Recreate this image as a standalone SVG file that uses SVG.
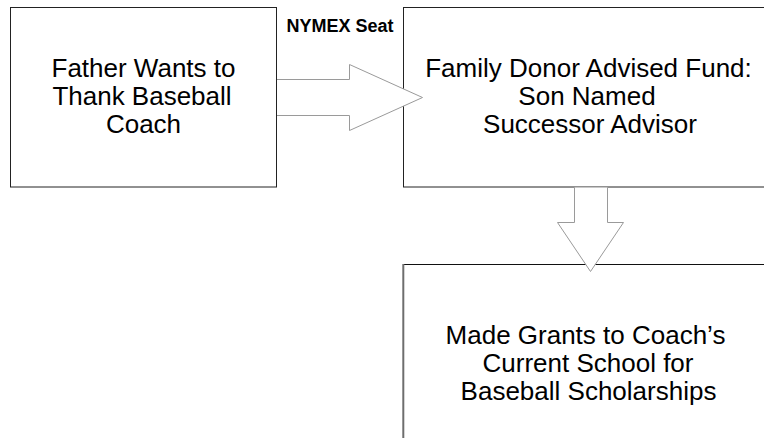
<svg xmlns="http://www.w3.org/2000/svg" width="764" height="438" viewBox="0 0 764 438">
  <style>
    .box { fill: #ffffff; stroke: #222222; stroke-width: 1; }
    .txt { font-family: "Liberation Sans", Arial, sans-serif; font-size: 26px; fill: #000000; text-anchor: middle; }
    .lbl { font-family: "Liberation Sans", Arial, sans-serif; font-size: 18px; font-weight: bold; fill: #000000; text-anchor: middle; }
    .arrow { fill: #ffffff; stroke: #9a9a9a; stroke-width: 1; stroke-linejoin: miter; }
  </style>
  <rect width="764" height="438" fill="#ffffff"/>

  <g id="node-father">
    <rect class="box" x="10.5" y="7.5" width="266" height="179.5"/>
    <text class="txt" x="143.5" y="77">Father Wants to</text>
    <text class="txt" x="142" y="105">Thank Baseball</text>
    <text class="txt" x="143.5" y="133">Coach</text>
  </g>

  <g id="node-fund">
    <rect class="box" x="403.5" y="7.5" width="370" height="179.5"/>
    <text class="txt" x="588.5" y="77">Family Donor Advised Fund:</text>
    <text class="txt" x="587" y="105">Son Named</text>
    <text class="txt" x="590" y="133">Successor Advisor</text>
  </g>

  <g id="node-grants">
    <path d="M403.5,264.5 H790" fill="none" stroke="#111111" stroke-width="1"/>
    <path d="M403.3,264 V438" fill="none" stroke="#6e6e6e" stroke-width="2"/>
    <text class="txt" x="585.5" y="344">Made Grants to Coach’s</text>
    <text class="txt" x="588" y="372">Current School for</text>
    <text class="txt" x="588.5" y="400">Baseball Scholarships</text>
  </g>

  <g id="connectors">
    <path class="arrow" d="M277,79.5 H349.5 V64.5 L422.5,97.5 L349.5,130.5 V115.5 H277"/>
    <path class="arrow" d="M574.5,187.5 V222.5 H557.5 L590.5,271.5 L623.5,222.5 H607.5 V187.5"/>
    <text class="lbl" x="340" y="31.5">NYMEX Seat</text>
  </g>
</svg>
